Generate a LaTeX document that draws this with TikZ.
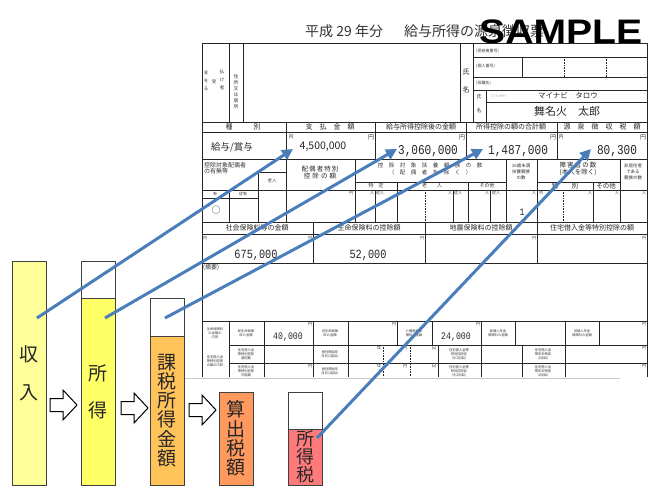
\documentclass[tikz,border=0pt]{standalone}
\usepackage{fontspec}
\setmainfont{Noto Sans CJK JP}
\newfontfamily\monofont[FakeStretch=0.82]{Liberation Mono}
\newfontfamily\samplefont[FakeStretch=1.15]{Liberation Sans}
\usepackage{tikz}
\usetikzlibrary{positioning,arrows.meta}
\definecolor{sblue}{HTML}{4A7EBB}
\definecolor{syellow}{HTML}{FFFF99}
\definecolor{syellow2}{HTML}{FFFF66}
\definecolor{sorange}{HTML}{FFC35A}
\definecolor{sorange2}{HTML}{FF995E}
\definecolor{sred}{HTML}{FF7B7B}
\definecolor{sline}{HTML}{404040}
\definecolor{sgray}{HTML}{C8C8C8}

\begin{document}
\begin{tikzpicture}[x=1pt, y=-1pt,
  fl/.style={draw=black!85, line width=0.5pt},
  fd/.style={fl, dash pattern=on 0.8pt off 0.8pt},
  hd/.style={font=\fontsize{7}{7.5}\selectfont, inner sep=0pt, text=black!85},
  sm/.style={font=\fontsize{5}{6}\selectfont, inner sep=0pt, align=center, text=black!80},
  tn/.style={font=\fontsize{3.3}{4}\selectfont, inner sep=0pt, align=center, text=black!80},
  amt/.style={font=\monofont\fontsize{13.5}{13.5}\selectfont, inner sep=0pt, text=black!85},
  bar/.style={rectangle, draw=sline, line width=0.8pt, minimum width=34pt, inner sep=0pt,
    outer sep=0pt, align=center, text=black!85, font=\fontsize{19}{19.2}\selectfont},
  blk/.style={draw=black, line width=1pt, fill=white, line join=miter},
  arr/.style={-{Triangle[length=11pt, width=11pt]}, line width=3pt, color=sblue}
]
\useasboundingbox (0,0) rectangle (658,493);

% title and stamp
\node[font=\fontsize{14}{14}\selectfont, text=black!80, anchor=west, inner sep=0pt] (title) at (305,31)
  {平成 29 年分\hspace{21pt}給与所得の源泉徴収票};
\node[font=\samplefont\bfseries\fontsize{34}{34}\selectfont, anchor=base west, inner sep=0pt] (stamp) at (479,43) {SAMPLE};

% form grid
\draw[fl] (202,377) -- (202,43) -- (647,43) -- (647,377);
\draw[sgray, line width=0.7pt] (185,378) -- (620,378);
\draw[fl] (229,43) -- (229,122) (243,43) -- (243,122) (460,43) -- (460,122) (473,43) -- (473,122);
\draw[fl] (473,57) -- (647,57) (473,77) -- (647,77) (473,90) -- (647,90) (486,102) -- (647,102) (486,90) -- (486,122);
\draw[fl] (522,57) -- (522,77);
\draw[fd] (564,57) -- (564,77) (606,57) -- (606,77);
\foreach \y in {122,132,159,190,222,234,263,321} \draw[fl] (202,\y) -- (647,\y);
\draw[fl] (229,345) -- (647,345) (229,363) -- (647,363);
\foreach \x in {286,375,466,557} \draw[fl] (\x,122) -- (\x,159);
\foreach \x in {286,355,506,537,620} \draw[fl] (\x,159) -- (\x,222);
\draw[fl] (258,172) -- (286,172) (258,172) -- (258,222) (202,198) -- (258,198) (229,190) -- (229,222);
\draw[fl] (355,182) -- (506,182) (537,182) -- (620,182);
\foreach \x in {397,468,593} \draw[fl] (\x,182) -- (\x,222);
\foreach \x in {375,453,490} \draw[fl] (\x,190) -- (\x,222);
\draw[fd] (425,190) -- (425,222) (563,190) -- (563,222);
\foreach \x in {313,425,537} \draw[fl] (\x,222) -- (\x,263);
\foreach \x in {229,264,313,348,397,432,481,515,565,599} \draw[fl] (\x,321) -- (\x,345);
\foreach \x in {229,264,313,348,438,481,522,565} \draw[fl] (\x,345) -- (\x,377);
\draw[fd] (383,345) -- (383,377) (410,345) -- (410,377);

% payee block
\node[tn, font=\fontsize{4.5}{8}\selectfont] (pyA) at (206,81) {支\\を\\る};
\node[tn, font=\fontsize{4.5}{8}\selectfont] (pyB) at (214,82) {受};
\node[tn, font=\fontsize{4.5}{8}\selectfont] (pyC) at (222,80) {払\\け\\者};
\node[tn, font=\fontsize{4.8}{6}\selectfont] (addr) at (236,92) {住\\所\\又\\は\\居\\所};
\node[hd, align=center, font=\fontsize{7}{18}\selectfont] (nmA) at (466,81) {氏\\名};
\node[tn, font=\fontsize{4}{4}\selectfont, anchor=west] (idA) at (476,51) {(受給者番号)};
\node[tn, font=\fontsize{4}{4}\selectfont, anchor=west] (idB) at (476,66) {(個人番号)};
\node[tn, font=\fontsize{4}{4}\selectfont, anchor=west] (idC) at (476,83) {(役職名)};
\node[sm, font=\fontsize{5}{14}\selectfont] (nmB) at (479,104) {氏\\名};
\node[tn, text=black!45, anchor=west] (kana) at (491,96) {(フリガナ)};
\node[hd, font=\fontsize{7.5}{8}\selectfont] (kanaV) at (568,96) {マイナビ　タロウ};
\node[hd, font=\fontsize{11}{11}\selectfont] (name) at (567,111) {舞名火　太郎};

% amounts header
\node[hd] (hA) at (243,127) {種　　　別};
\node[hd] (hB) at (330,127) {支　払　金　額};
\node[hd] (hC) at (421,127) {給与所得控除後の金額};
\node[hd] (hD) at (511,127) {所得控除の額の合計額};
\node[hd] (hE) at (602,127) {源　泉　徴　収　税　額};
\node[hd, font=\fontsize{9.5}{10}\selectfont] (kind) at (232,147) {給与/賞与};
\node[tn, font=\fontsize{5}{5}\selectfont] (uA) at (291,137) {内};
\node[tn, font=\fontsize{6}{6}\selectfont] (yA) at (371,137) {円};
\node[hd, font=\fontsize{10.5}{11}\selectfont] (pay) at (323,147) {4,500,000};
\node[tn, font=\fontsize{6}{6}\selectfont] (yB) at (462,137) {円};
\node[amt] (after) at (428,151) {3,060,000};
\node[tn, font=\fontsize{6}{6}\selectfont] (yC) at (553,137) {円};
\node[amt] (deduct) at (518,151) {1,487,000};
\node[tn, font=\fontsize{5}{5}\selectfont] (uB) at (561,137) {内};
\node[tn, font=\fontsize{6}{6}\selectfont] (yD) at (643,137) {円};
\node[amt] (tax) at (617,151) {80,300};

% dependants block
\node[sm, font=\fontsize{6}{6.5}\selectfont, align=left, anchor=west] (spA) at (204,168) {控除対象配偶者\\の有無等};
\node[tn, font=\fontsize{4.5}{5}\selectfont] (spB) at (272,181) {老人};
\node[hd, align=center, font=\fontsize{6.5}{7}\selectfont] (spC) at (320,173) {配\,偶\,者\,特\,別\\控\,\,除\,\,の\,\,額};
\node[sm, font=\fontsize{5.5}{7}\selectfont] (dpA) at (430,169) {控　除　対　象　扶　養　親　族　の　数\\（　配　偶　者　を　除　く　）};
\node[sm] (dpB) at (376,186) {特　定};
\node[sm] (dpC) at (432,186) {老　　人};
\node[sm] (dpD) at (487,186) {その他};
\node[tn, font=\fontsize{4.5}{6}\selectfont] (dpE) at (521,172) {16歳未満\\扶養親族\\の数};
\node[hd, align=center, font=\fontsize{6.5}{7}\selectfont] (hcA) at (578,169) {障\,害\,者\,の\,数\\(本人を除く)};
\node[hd, font=\fontsize{6.5}{7}\selectfont] (hcB) at (565,186) {特　　別};
\node[hd, font=\fontsize{6.5}{7}\selectfont] (hcC) at (606,186) {その他};
\node[tn, font=\fontsize{4.5}{6}\selectfont] (nrA) at (633,172) {非居住者\\である\\親族の数};
\node[tn, font=\fontsize{4}{4}\selectfont] (hasA) at (215,194) {有};
\node[tn, font=\fontsize{4}{4}\selectfont] (hasB) at (243,194) {従有};
\node[hd, font=\fontsize{9}{9}\selectfont] (circ) at (216,210) {○};
\node[tn, font=\fontsize{4}{4}\selectfont] (yE) at (351,193) {円};
\node[tn, font=\fontsize{4}{4}\selectfont] (pA) at (372,193) {人};
\node[tn, font=\fontsize{4}{4}\selectfont] (pB) at (380,193) {従人};
\node[tn, font=\fontsize{4}{4}\selectfont] (pC) at (401,193) {内};
\node[tn, font=\fontsize{4}{4}\selectfont] (pD) at (450,193) {人};
\node[tn, font=\fontsize{4}{4}\selectfont] (pE) at (458,193) {従人};
\node[tn, font=\fontsize{4}{4}\selectfont] (pF) at (487,193) {人};
\node[tn, font=\fontsize{4}{4}\selectfont] (pG) at (496,193) {従人};
\node[tn, font=\fontsize{4}{4}\selectfont] (pH) at (534,193) {人};
\node[tn, font=\fontsize{4}{4}\selectfont] (pI) at (541,193) {内};
\node[tn, font=\fontsize{4}{4}\selectfont] (pJ) at (590,193) {人};
\node[tn, font=\fontsize{4}{4}\selectfont] (pK) at (617,193) {人};
\node[tn, font=\fontsize{4}{4}\selectfont] (pL) at (644,193) {人};
\node[amt, font=\monofont\fontsize{10}{10}\selectfont] (kids) at (522,212) {1};

% insurance block
\node[hd] (inA) at (257,228) {社会保険料等の金額};
\node[hd] (inB) at (369,228) {生命保険料の控除額};
\node[hd] (inC) at (481,228) {地震保険料の控除額};
\node[hd] (inD) at (592,228) {住宅借入金等特別控除の額};
\node[tn, font=\fontsize{4}{4}\selectfont] (uC) at (205,238) {内};
\foreach \x/\n in {310/yF,422/yG,534/yH,644/yI} \node[tn, font=\fontsize{4}{4}\selectfont] (\n) at (\x,238) {円};
\node[amt, font=\monofont\fontsize{12.5}{12.5}\selectfont] (social) at (256,255) {675,000};
\node[amt, font=\monofont\fontsize{12.5}{12.5}\selectfont] (life) at (368,255) {52,000};
\node[sm, font=\fontsize{6}{6}\selectfont, anchor=west] (memo) at (203,268) {(摘要)};

% breakdown rows
\node[tn] (bA) at (215,333) {生命保険料\\の金額の\\内訳};
\node[tn] (bB) at (246,333) {新生命保険\\料の金額};
\node[tn] (bC) at (330,333) {旧生命保険\\料の金額};
\node[tn] (bD) at (414,333) {介護医療保\\険料の金額};
\node[tn] (bE) at (498,333) {新個人年金\\保険料の金額};
\node[tn] (bF) at (582,333) {旧個人年金\\保険料の金額};
\node[amt, font=\monofont\fontsize{10}{10}\selectfont] (lifeN) at (288,337) {40,000};
\node[amt, font=\monofont\fontsize{10}{10}\selectfont] (care) at (456,337) {24,000};
\node[tn] (hlA) at (215,361) {住宅借入金\\等特別控除\\の額の内訳};
\node[tn] (hlB) at (246,354) {住宅借入金\\等特別控除\\適用数};
\node[tn] (hlC) at (246,371) {住宅借入金\\等特別控除\\可能額};
\node[tn] (hlD) at (330,354) {居住開始年\\月日(1回目)};
\node[tn] (hlE) at (330,371) {居住開始年\\月日(2回目)};
\node[tn] (hlF) at (459,354) {住宅借入金等\\特別控除区\\分(1回目)};
\node[tn] (hlG) at (459,371) {住宅借入金等\\特別控除区\\分(2回目)};
\node[tn] (hlH) at (543,354) {住宅借入金\\等年末残高\\(1回目)};
\node[tn] (hlI) at (543,371) {住宅借入金\\等年末残高\\(2回目)};
\foreach \y/\n in {348/a,366/b} {
  \node[tn, font=\fontsize{4.5}{4.5}\selectfont] (yr\n) at (379,\y) {年};
  \node[tn, font=\fontsize{4.5}{4.5}\selectfont] (mo\n) at (405,\y) {月};
  \node[tn, font=\fontsize{4.5}{4.5}\selectfont] (dy\n) at (434,\y) {日};
}
\foreach \x/\y/\n in {310/324/ya,394/324/yb,478/324/yc,644/324/yd,310/366/ye,644/348/yf,644/366/yg}
  \node[tn, font=\fontsize{4}{4}\selectfont] (\n) at (\x,\y) {円};

% bars
\node[bar, fill=syellow, minimum height=224pt, anchor=north west, font=\fontsize{19}{38}\selectfont] (income) at (12,261) {収\\入};
\node[bar, fill=white, minimum height=37pt, anchor=north west] (incomeT) at (81,261) {};
\node[bar, fill=syellow2, minimum height=187pt, anchor=north, font=\fontsize{19}{37}\selectfont] (earn) at (incomeT.south) {所\\得};
\node[bar, fill=white, minimum height=38pt, anchor=north west] (taxableT) at (150,298) {};
\node[bar, fill=sorange, minimum height=149pt, anchor=north] (taxable) at (taxableT.south) {課\\税\\所\\得\\金\\額};
\node[bar, fill=sorange2, minimum height=93pt, anchor=north west] (calc) at (219,392) {算\\出\\税\\額};
\node[bar, fill=white, minimum height=37pt, anchor=north west] (itaxT) at (288,392) {};
\node[bar, fill=sred, minimum height=56pt, anchor=north, font=\fontsize{18}{18}\selectfont] (itax) at (itaxT.south) {所\\得\\税};

% step arrows
\foreach \x/\y in {50/405,121/408,189/410}
  \draw[blk] (\x,\y) ++(0,-6.5) -- ++(13,0) -- ++(0,-8.5) -- ++(14,15) -- ++(-14,15) -- ++(0,-8.5) -- ++(-13,0) -- cycle;

% links to the slip
\coordinate (s1) at (37,318);
\coordinate (s2) at (105,318);
\coordinate (s3) at (165,318);
\coordinate (s4) at (317,438);
\coordinate (e1) at (293,149);
\coordinate (e2) at (397,149);
\coordinate (e3) at (483,149);
\coordinate (e4) at (591,149);
\draw[arr] (s1) -- (e1);
\draw[arr] (s2) -- (e2);
\draw[arr] (s3) -- (e3);
\draw[arr] (s4) -- (e4);
\end{tikzpicture}
\end{document}
